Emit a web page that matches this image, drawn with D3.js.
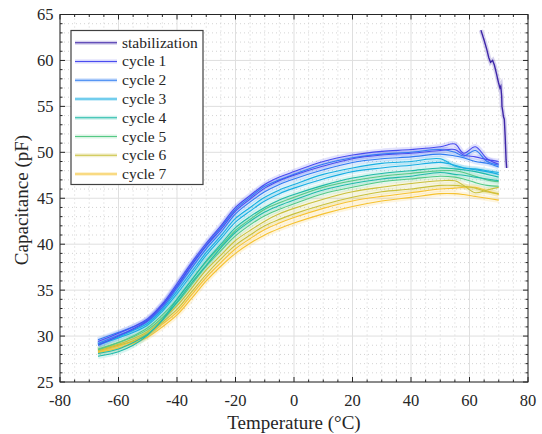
<!DOCTYPE html>
<html><head><meta charset="utf-8">
<script src="https://cdn.jsdelivr.net/npm/d3@7"></script>
</head><body style="margin:0"><svg id="c" width="542" height="434" style="font-family:'Liberation Serif'"></svg>
<script>
const xTicks = [-80,-60,-40,-20,0,20,40,60,80];
const yTicks = [25,30,35,40,45,50,55,60,65];
const seriesNames = ["stabilization","cycle 1","cycle 2","cycle 3","cycle 4","cycle 5","cycle 6","cycle 7"];
const seriesColors = ["#3e26a8","#4a4cf0","#2f7cf2","#18aee2","#20bba8","#55c985","#c9c03c","#f6c232"];

const temps = [-67,-60,-55,-50,-45,-40,-35,-30,-25,-20,-15,-10,-5,0,10,20,30,40,50,55,58,62,66,70];
const c1up   = [29.4,30.3,31.0,31.9,33.5,35.7,38.0,40.1,42.0,44.0,45.3,46.5,47.3,47.9,49.0,49.7,50.1,50.3,50.6,50.9,49.9,50.6,49.3,48.7];
const c1down = [29.0,30.0,30.8,31.7,33.3,35.4,37.7,39.8,41.6,43.6,44.9,46.1,46.9,47.5,48.5,49.3,49.7,49.9,50.2,50.3,49.7,49.5,49.2,49.0];
const c2up   = [29.6,30.4,31.0,31.8,33.4,35.5,37.8,39.9,41.8,43.8,45.1,46.3,47.0,47.6,48.7,49.4,49.8,50.0,50.3,50.0,49.6,50.2,49.0,48.6];
const c2down = [29.2,30.1,30.7,31.6,33.1,35.2,37.4,39.5,41.3,43.3,44.6,45.7,46.5,47.1,48.1,48.9,49.3,49.5,49.8,49.6,49.4,49.0,48.8,48.4];
const c3up   = [29.1,29.9,30.6,31.4,32.9,34.9,37.0,39.1,40.9,42.8,44.0,45.1,45.9,46.5,47.6,48.3,48.8,49.0,49.3,48.5,48.3,48.2,48.0,47.8];
const c3down = [29.0,29.8,30.4,31.2,32.7,34.6,36.7,38.8,40.6,42.4,43.6,44.7,45.5,46.1,47.1,47.9,48.3,48.6,48.9,48.6,48.3,48.1,47.9,47.6];
const c4up   = [27.8,28.3,29.0,30.1,31.8,34.0,36.1,38.2,40.0,41.8,43.0,44.0,44.8,45.4,46.4,47.2,47.7,48.0,48.3,48.2,48.1,47.9,47.6,47.3];
const c4down = [28.1,28.6,29.3,30.2,31.7,33.7,35.8,37.7,39.6,41.3,42.5,43.5,44.2,44.8,45.9,46.6,47.1,47.4,47.8,47.6,47.5,47.3,47.1,46.9];
const c5up   = [28.6,29.3,30.0,30.9,32.3,34.0,36.1,38.1,39.8,41.5,42.7,43.8,44.5,45.1,46.2,46.9,47.4,47.7,48.0,48.0,47.8,47.4,47.0,46.8];
const c5down = [28.5,29.3,29.9,30.7,32.0,33.6,35.6,37.6,39.3,40.9,42.1,43.1,43.8,44.4,45.5,46.2,46.8,47.1,47.4,47.3,47.1,46.7,46.4,46.3];
const c6up   = [28.5,29.1,29.7,30.5,31.8,33.3,35.2,37.2,38.8,40.4,41.5,42.5,43.3,43.9,44.9,45.7,46.2,46.6,46.9,46.9,46.4,45.6,45.9,46.2];
const c6down = [28.4,29.0,29.5,30.3,31.5,32.9,34.8,36.7,38.4,39.9,41.0,42.0,42.7,43.3,44.3,45.1,45.7,46.0,46.4,46.4,46.3,46.1,45.7,45.5];
const c7up   = [28.3,28.9,29.4,30.1,31.3,32.6,34.5,36.4,38.0,39.5,40.6,41.6,42.3,42.9,43.9,44.7,45.2,45.6,46.0,46.1,46.2,46.2,45.8,45.4];
const c7down = [28.2,28.7,29.2,29.9,31.0,32.3,34.1,36.0,37.6,39.0,40.1,41.0,41.7,42.3,43.3,44.1,44.7,45.1,45.5,45.5,45.4,45.2,45.0,44.8];

const stabT = [63.9,65.0,65.9,66.6,67.2,67.9,68.5,69.2,69.9,70.4,70.7,71.0,71.1,71.4,71.6,71.9,72.2,72.5,72.7];
const stabC = [63.3,62.2,61.2,60.3,59.8,60.0,59.5,58.6,57.6,57.0,57.2,56.1,55.0,54.4,53.9,53.6,51.7,49.2,48.3];

const cycleLines = [
  [1,c1up],[1,c1down],[2,c2up],[2,c2down],[3,c3up],[3,c3down],[4,c4up],[4,c4down],
  [5,c5up],[5,c5down],[6,c6up],[6,c6down],[7,c7up],[7,c7down]
];

const ink = "#262626";
const svg = d3.select("#c");
const L=60,R=528,T=14.5,B=382;
const x = d3.scaleLinear().domain([-80,80]).range([L,R]);
const y = d3.scaleLinear().domain([25,65]).range([B,T]);

function txt(sel, size){ return sel.style("font-family",'"Liberation Serif"').style("font-size",size+"px").style("fill",ink); }

// grid
const g = svg.append("g");
const minorX = d3.range(-80,80.1,5).filter(v=>!xTicks.includes(v));
const minorY = d3.range(25,65.1,1).filter(v=>!yTicks.includes(v));
g.selectAll(".mx").data(minorX).join("line").attr("x1",d=>x(d)).attr("x2",d=>x(d)).attr("y1",T).attr("y2",B)
  .attr("stroke","#c8c8c8").attr("stroke-width",0.8).attr("stroke-dasharray","1,3");
g.selectAll(".my").data(minorY).join("line").attr("y1",d=>y(d)).attr("y2",d=>y(d)).attr("x1",L).attr("x2",R)
  .attr("stroke","#c8c8c8").attr("stroke-width",0.8).attr("stroke-dasharray","1,3");
g.selectAll(".gx").data(xTicks).join("line").attr("x1",d=>x(d)).attr("x2",d=>x(d)).attr("y1",T).attr("y2",B)
  .attr("stroke","#dfdfdf").attr("stroke-width",1);
g.selectAll(".gy").data(yTicks).join("line").attr("y1",d=>y(d)).attr("y2",d=>y(d)).attr("x1",L).attr("x2",R)
  .attr("stroke","#dfdfdf").attr("stroke-width",1);

// data
svg.append("clipPath").attr("id","cp").append("rect").attr("x",L).attr("y",T).attr("width",R-L).attr("height",B-T);
const dg = svg.append("g").attr("clip-path","url(#cp)");
const line = d3.line().x(d=>x(d[0])).y(d=>y(d[1])).curve(d3.curveCatmullRom.alpha(0.5));
const lineLin = d3.line().x(d=>x(d[0])).y(d=>y(d[1]));
const drawn = cycleLines.slice().reverse();
drawn.forEach(([ci,vals])=>{
  const pts = temps.map((t,i)=>[t,vals[i]]);
  dg.append("path").attr("d",line(pts)).attr("fill","none").attr("stroke",seriesColors[ci])
    .attr("stroke-opacity",0.16).attr("stroke-width",5.5).attr("stroke-linejoin","round");
});
drawn.forEach(([ci,vals])=>{
  const pts = temps.map((t,i)=>[t,vals[i]]);
  dg.append("path").attr("d",line(pts)).attr("fill","none").attr("stroke",seriesColors[ci])
    .attr("stroke-width",1.1);
});
const sp = stabT.map((t,i)=>[t,stabC[i]]);
dg.append("path").attr("d",lineLin(sp)).attr("fill","none").attr("stroke",seriesColors[0]).attr("stroke-opacity",0.2).attr("stroke-width",4.5);
dg.append("path").attr("d",lineLin(sp)).attr("fill","none").attr("stroke",seriesColors[0]).attr("stroke-width",1.4);

// axes box
const ax = svg.append("g");
ax.append("rect").attr("x",L).attr("y",T).attr("width",R-L).attr("height",B-T).attr("fill","none").attr("stroke",ink).attr("stroke-width",1);
xTicks.forEach(v=>{
  ax.append("line").attr("x1",x(v)).attr("x2",x(v)).attr("y1",B).attr("y2",B-5).attr("stroke",ink);
  ax.append("line").attr("x1",x(v)).attr("x2",x(v)).attr("y1",T).attr("y2",T+5).attr("stroke",ink);
  txt(ax.append("text"),16.5).attr("x",x(v)).attr("y",B+24).attr("text-anchor","middle").text(v);
});
yTicks.forEach(v=>{
  ax.append("line").attr("y1",y(v)).attr("y2",y(v)).attr("x1",L).attr("x2",L+5).attr("stroke",ink);
  ax.append("line").attr("y1",y(v)).attr("y2",y(v)).attr("x1",R).attr("x2",R-5).attr("stroke",ink);
  txt(ax.append("text"),16.5).attr("x",L-6.5).attr("y",y(v)+5.5).attr("text-anchor","end").text(v);
});
minorY.forEach(v=>{
  ax.append("line").attr("y1",y(v)).attr("y2",y(v)).attr("x1",L).attr("x2",L+2.5).attr("stroke",ink);
  ax.append("line").attr("y1",y(v)).attr("y2",y(v)).attr("x1",R).attr("x2",R-2.5).attr("stroke",ink);
});
minorX.forEach(v=>{
  ax.append("line").attr("x1",x(v)).attr("x2",x(v)).attr("y1",B).attr("y2",B-2.5).attr("stroke",ink);
  ax.append("line").attr("x1",x(v)).attr("x2",x(v)).attr("y1",T).attr("y2",T+2.5).attr("stroke",ink);
});
txt(svg.append("text"),19).attr("x",(L+R)/2).attr("y",429).attr("text-anchor","middle").text("Temperature (°C)");
txt(svg.append("text"),19).attr("transform",`translate(28,200) rotate(-90)`).attr("text-anchor","middle").text("Capacitance (pF)");

// legend
const lg = svg.append("g");
lg.append("rect").attr("x",71).attr("y",30.5).attr("width",132).attr("height",154).attr("fill","#fff").attr("stroke","#404040").attr("stroke-width",1.2);
seriesNames.forEach((n,i)=>{
  const yy = 42.7 + i*18.76;
  lg.append("line").attr("x1",75).attr("x2",117).attr("y1",yy).attr("y2",yy).attr("stroke",seriesColors[i]).attr("stroke-opacity",0.22).attr("stroke-width",4);
  lg.append("line").attr("x1",75).attr("x2",117).attr("y1",yy).attr("y2",yy).attr("stroke",seriesColors[i]).attr("stroke-width",1.1);
  txt(lg.append("text"),15.5).attr("x",122).attr("y",yy+5).text(n);
});
</script></body></html>
